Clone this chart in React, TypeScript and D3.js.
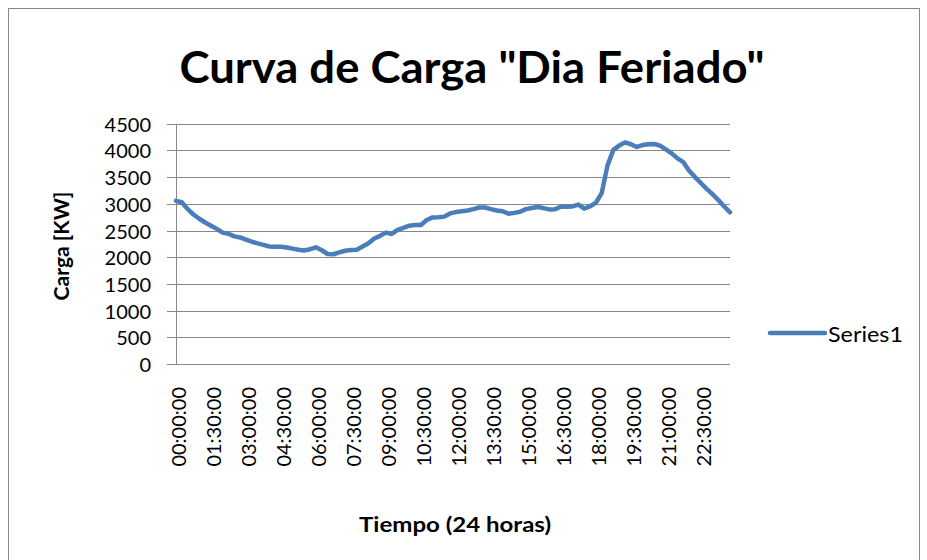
import React from "react";
import * as d3 from "d3";

const title = 'Curva de Carga "Dia Feriado"';
const yTitle = "Carga [KW]";
const xTitle = "Tiempo (24 horas)";
const seriesName = "Series1";

// 15-minute categories, 00:00:00 .. 23:45:00
const categories: string[] = d3.range(96).map((i) => {
  const h = Math.floor(i / 4);
  const m = (i % 4) * 15;
  return `${String(h).padStart(2, "0")}:${String(m).padStart(2, "0")}:00`;
});

const xTickLabels = [
  "00:00:00", "01:30:00", "03:00:00", "04:30:00", "06:00:00", "07:30:00",
  "09:00:00", "10:30:00", "12:00:00", "13:30:00", "15:00:00", "16:30:00",
  "18:00:00", "19:30:00", "21:00:00", "22:30:00",
];

const yTicks = [0, 500, 1000, 1500, 2000, 2500, 3000, 3500, 4000, 4500];

const load = [
  3055, 3030, 2900, 2800, 2720, 2650, 2590, 2530, 2460, 2440,
  2390, 2370, 2330, 2290, 2260, 2230, 2200, 2197, 2197, 2180,
  2160, 2140, 2125, 2150, 2185, 2130, 2060, 2055, 2090, 2120,
  2135, 2140, 2200, 2260, 2350, 2400, 2460, 2435, 2510, 2550,
  2590, 2603, 2603, 2697, 2745, 2747, 2760, 2820, 2845, 2860,
  2875, 2900, 2930, 2930, 2900, 2875, 2860, 2815, 2830, 2850,
  2900, 2920, 2940, 2920, 2895, 2900, 2945, 2947, 2950, 2985,
  2910, 2950, 3020, 3200, 3720, 4010, 4090, 4150, 4115, 4065,
  4100, 4115, 4120, 4090, 4020, 3945, 3850, 3780, 3620, 3500,
  3390, 3280, 3180, 3070, 2950, 2840,
];

const W = 927;
const H = 560;
const FONT = "Lato, 'Open Sans', sans-serif";

export default function App() {
  const x = d3.scalePoint<string>().domain(categories).range([176, 730]);
  const y = d3.scaleLinear().domain([0, 4500]).range([364, 123.7]);
  const line = d3
    .line<number>()
    .x((_, i) => x(categories[i]) as number)
    .y((d) => y(d))
    .curve(d3.curveLinear);

  return (
    <svg
      width={W}
      height={H}
      style={{ position: "absolute", left: 0, top: 0, background: "#fff" }}
      fontFamily={FONT}
    >
      <rect x={0} y={0} width={W} height={H} fill="#fff" />
      <rect x={8.5} y={8.5} width={911} height={620} fill="none" stroke="#878787" strokeWidth={1} />

      <text
        x={472}
        y={83}
        textAnchor="middle"
        fontSize={44}
        fontWeight="bold"
        fill="#000"
        textLength={585}
        lengthAdjust="spacingAndGlyphs"
      >
        {title}
      </text>

      {/* gridlines + y ticks */}
      {yTicks.map((t) => (
        <g key={t}>
          <line x1={167} x2={730} y1={Math.round(y(t)) + 0.5} y2={Math.round(y(t)) + 0.5} stroke="#888" strokeWidth={1} />
          <text x={151} y={y(t)} textAnchor="end" dominantBaseline="central" fontSize={20} fill="#000">
            {t}
          </text>
        </g>
      ))}
      {/* y axis line */}
      <line x1={176.5} x2={176.5} y1={123.7} y2={364.5} stroke="#888" strokeWidth={1} />

      {/* x tick labels */}
      {xTickLabels.map((lab) => {
        const px = x(lab) as number;
        return (
          <text
            key={lab}
            transform={`translate(${px + 2},387) rotate(-90)`}
            textAnchor="end"
            dominantBaseline="central"
            fontSize={20}
            fill="#000"
          >
            {lab}
          </text>
        );
      })}

      {/* series line */}
      <path d={line(load) || ""} fill="none" stroke="#4a7ebb" strokeWidth={4.5} strokeLinejoin="round" strokeLinecap="round" />

      {/* axis titles */}
      <text
        transform="translate(60,246) rotate(-90)"
        textAnchor="middle"
        dominantBaseline="central"
        fontSize={21}
        fontWeight="bold"
        fill="#000"
      >
        {yTitle}
      </text>
      <text
        x={455}
        y={523}
        textAnchor="middle"
        dominantBaseline="central"
        fontSize={21}
        fontWeight="bold"
        fill="#000"
        textLength={192}
        lengthAdjust="spacingAndGlyphs"
      >
        {xTitle}
      </text>

      {/* legend */}
      <line x1={770} x2={825} y1={333} y2={333} stroke="#4a7ebb" strokeWidth={4.5} strokeLinecap="round" />
      <text
        x={828}
        y={333}
        dominantBaseline="central"
        fontSize={21}
        fill="#000"
        textLength={75}
        lengthAdjust="spacingAndGlyphs"
      >
        {seriesName}
      </text>
    </svg>
  );
}
